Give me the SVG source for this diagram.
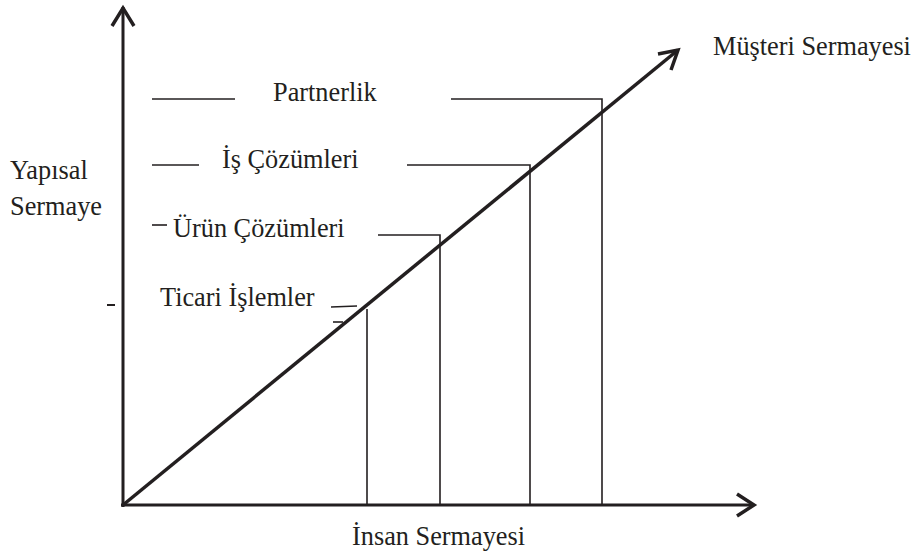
<svg xmlns="http://www.w3.org/2000/svg" width="913" height="553" viewBox="0 0 913 553">
<style>
text{font-family:"Liberation Serif","Times New Roman",serif;font-size:26.3px;fill:#231f20}
.ax{stroke:#231f20;stroke-width:3;fill:none}
.ah{stroke:#231f20;stroke-width:3.5;fill:none;stroke-linecap:butt;stroke-linejoin:miter}
.th{stroke:#231f20;stroke-width:1.6;fill:none}
</style>
<rect width="913" height="553" fill="#fff"/>
<g id="connectors">
<line class="ax" x1="123" y1="507" x2="123" y2="7"/>
<polyline class="ah" points="112,26 123,8 134,26"/>
<line class="ax" x1="121" y1="505" x2="754" y2="505"/>
<polyline class="ah" points="737,494 754,505 737,516"/>
<line class="ax" x1="123" y1="505" x2="678" y2="50" style="stroke-width:3.5"/>
<polyline class="ah" points="658,54 678,50 671,70"/>
<line class="th" x1="152" y1="99" x2="235" y2="99"/>
<polyline class="th" points="451,99 602,99 602,505"/>
<line class="th" x1="152" y1="165" x2="199" y2="165"/>
<polyline class="th" points="407,165 530,165 530,505"/>
<line class="th" x1="152" y1="225" x2="167" y2="225"/>
<polyline class="th" points="378,235 440,235 440,505"/>
<line class="th" x1="331" y1="307" x2="357" y2="306"/>
<line class="th" x1="367" y1="309" x2="367" y2="505"/>
<line class="th" x1="333" y1="322" x2="343" y2="322"/>
<line class="th" x1="107" y1="305" x2="115" y2="305" style="stroke-width:2"/>
</g>
<g id="musteri"><text x="713" y="55">Müşteri Sermayesi</text></g>
<g id="partnerlik"><text x="273" y="101">Partnerlik</text></g>
<g id="is"><text x="222" y="168">İş Çözümleri</text></g>
<g id="urun"><text x="173" y="237">Ürün Çözümleri</text></g>
<g id="ticari"><text x="160" y="306">Ticari İşlemler</text></g>
<g id="yapisal"><text x="10" y="179">Yapısal</text><text x="10" y="215">Sermaye</text></g>
<g id="insan"><text x="352" y="545">İnsan Sermayesi</text></g>
</svg>
